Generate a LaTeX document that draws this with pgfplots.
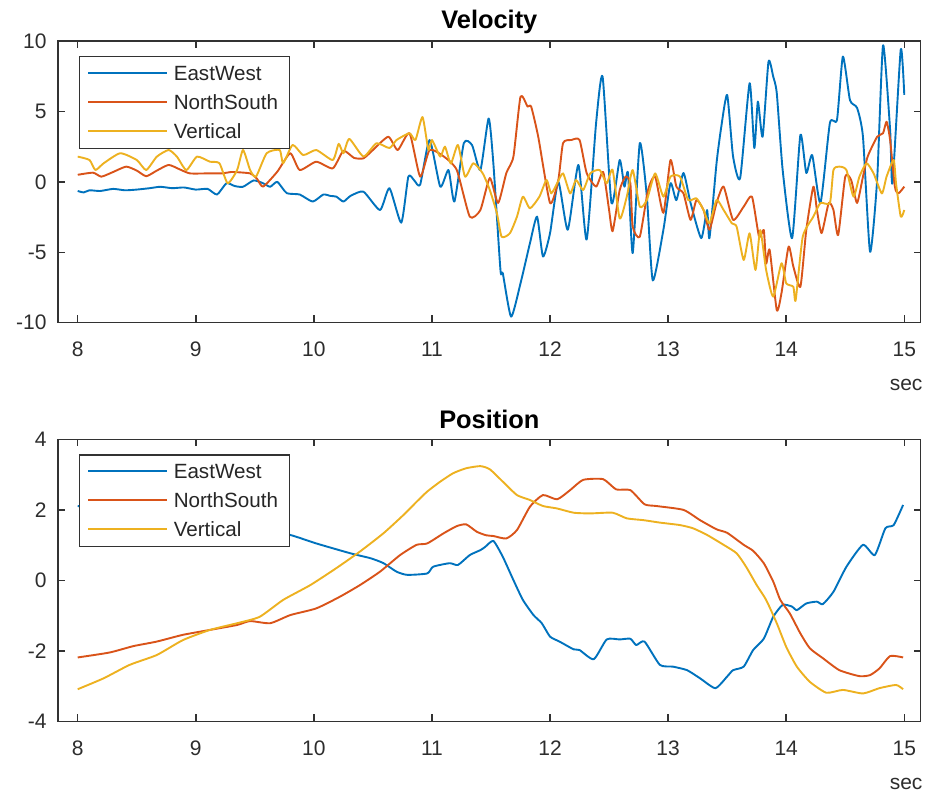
\documentclass[border=0pt]{standalone}
\usepackage{pgfplots}
\pgfplotsset{compat=1.18}
\usepackage{fontspec}
\setmainfont{Liberation Sans}
\definecolor{mblue}{RGB}{0,114,189}
\definecolor{mred}{RGB}{217,83,25}
\definecolor{myellow}{RGB}{237,177,32}
\definecolor{axgray}{RGB}{50,50,50}
\definecolor{txtgray}{RGB}{45,45,45}
\pgfplotsset{
  mstyle/.style={
    scale only axis, width=431.35pt,
    xmin=7.833, xmax=15.139,
    xtick={8,9,10,11,12,13,14,15},
    tick align=inside, major tick length=3.6pt,
    axis line style={draw=axgray, line width=0.75pt},
    every tick/.append style={axgray, line width=0.75pt},
    tick label style={font=\fontsize{10.5}{12}\selectfont, text=txtgray},
    xticklabel style={yshift=-6.2pt},
    yticklabel style={xshift=-2.2pt},
    /pgf/number format/assume math mode=true,
    title style={at={(0.5,1)}, anchor=base, font=\bfseries\fontsize{12.7}{14}\selectfont, text=black},
    xlabel={sec},
    xlabel style={at={(1,0)}, anchor=center, xshift=-7.3pt, yshift=-31pt, font=\fontsize{10.5}{12}\selectfont, text=txtgray},
  },
  vline/.style={line width=0.95pt, line join=round, smooth, tension=0.35},
}
% legend drawn inside the axis (box, sample lines, labels)
\newcommand\mlegend{%
  \draw[draw=axgray, line width=0.75pt, fill=white]
    ([xshift=10.65pt,yshift=-7.85pt]rel axis cs:0,1) rectangle ++(105pt,-45.8pt);
  \draw[mblue, line width=0.95pt]   ([xshift=15.15pt,yshift=-15.9pt]rel axis cs:0,1) -- ++(39.5pt,0pt);
  \draw[mred, line width=0.95pt]    ([xshift=15.15pt,yshift=-30.4pt]rel axis cs:0,1) -- ++(39.5pt,0pt);
  \draw[myellow, line width=0.95pt] ([xshift=15.15pt,yshift=-44.9pt]rel axis cs:0,1) -- ++(39.5pt,0pt);
  \path[font=\fontsize{10.3}{12}\selectfont, text=black!85, inner sep=0pt]
    ([xshift=57.7pt,yshift=-19.6pt]rel axis cs:0,1) node[anchor=base west] {EastWest}
    ([xshift=57.7pt,yshift=-34.1pt]rel axis cs:0,1) node[anchor=base west] {NorthSouth}
    ([xshift=57.7pt,yshift=-48.6pt]rel axis cs:0,1) node[anchor=base west] {Vertical};
}
\begin{document}
\begin{tikzpicture}
\path[use as bounding box] (0,0) rectangle (464pt,396.5pt);
% ---------------- Velocity ----------------
\begin{axis}[mstyle, at={(29pt,376pt)}, anchor=north west, height=140.85pt,
  ymin=-10, ymax=10, ytick={-10,-5,0,5,10},
  title={Velocity}, title style={yshift=0.3pt}]
\addplot[mblue, vline] coordinates {
(8.00,-0.65) (8.05,-0.75) (8.10,-0.6) (8.19,-0.65) (8.30,-0.5) (8.40,-0.6) (8.50,-0.55) (8.61,-0.45) (8.70,-0.35) (8.80,-0.45) (8.90,-0.4) (9.00,-0.55) (9.10,-0.5) (9.18,-0.9) (9.26,-0.1) (9.33,-0.3) (9.40,-0.35) (9.49,0.1) (9.57,-0.1) (9.63,-0.35) (9.69,0.0) (9.77,-0.8) (9.88,-0.9) (9.99,-1.4) (10.08,-0.9) (10.14,-1.0) (10.19,-1.05) (10.25,-1.4) (10.31,-1.0) (10.42,-0.7) (10.56,-2.0) (10.64,-0.45) (10.74,-2.9) (10.80,0.37) (10.85,0.1) (10.90,-0.2) (10.98,2.97) (11.07,-0.34) (11.14,0.84) (11.19,-1.4) (11.27,2.75) (11.34,2.6) (11.41,0.84) (11.48,4.5) (11.52,1.3) (11.58,-6.26) (11.60,-6.5) (11.67,-9.57) (11.75,-7.2) (11.83,-4.35) (11.89,-2.47) (11.94,-5.3) (12.00,-3.64) (12.07,0.0) (12.15,-3.4) (12.24,1.2) (12.31,-4.1) (12.39,4.18) (12.445,7.47) (12.52,-1.5) (12.59,1.55) (12.63,-0.34) (12.66,0.63) (12.70,-5.06) (12.76,2.75) (12.82,-1.05) (12.87,-7.0) (12.96,-3.4) (13.02,-0.1) (13.07,-1.3) (13.13,0.63) (13.19,-1.5) (13.28,-4.0) (13.33,-2.0) (13.35,-4.0) (13.41,1.33) (13.45,3.9) (13.50,6.17) (13.55,1.8) (13.61,0.27) (13.69,7.0) (13.73,2.4) (13.76,5.7) (13.80,3.2) (13.85,8.53) (13.89,7.47) (13.92,6.3) (13.97,0.84) (14.05,-4.0) (14.12,3.33) (14.17,0.63) (14.22,1.9) (14.29,-1.5) (14.37,4.18) (14.43,4.4) (14.48,8.9) (14.54,5.8) (14.60,5.25) (14.65,3.2) (14.71,-4.96) (14.77,0.13) (14.82,9.7) (14.88,3.68) (14.90,-0.1) (14.97,9.4) (15.00,6.17)
};
\addplot[mred, vline] coordinates {
(8.00,0.5) (8.13,0.65) (8.20,0.37) (8.30,0.7) (8.41,1.08) (8.50,0.8) (8.58,0.4) (8.67,0.8) (8.77,1.2) (8.86,0.9) (8.95,0.6) (9.10,0.6) (9.23,0.6) (9.30,0.7) (9.46,0.6) (9.52,0.2) (9.57,-0.34) (9.69,0.72) (9.80,2.03) (9.88,0.84) (10.02,1.43) (10.16,0.96) (10.25,2.2) (10.34,1.7) (10.42,1.67) (10.50,2.26) (10.63,3.2) (10.71,2.26) (10.81,3.45) (10.90,0.37) (10.98,2.26) (11.10,1.8) (11.21,0.84) (11.32,-2.47) (11.41,-2.0) (11.49,0.27) (11.56,-1.5) (11.63,0.63) (11.69,1.8) (11.75,6.05) (11.81,5.34) (11.84,5.34) (11.90,3.2) (12.00,-1.5) (12.07,0.13) (12.11,2.75) (12.18,2.97) (12.25,2.97) (12.31,0.63) (12.39,-0.34) (12.45,0.7) (12.50,-2.0) (12.53,-3.5) (12.59,-0.58) (12.64,0.37) (12.68,-0.1) (12.70,-3.18) (12.76,-3.9) (12.83,-0.58) (12.89,0.37) (12.96,-2.2) (13.02,1.55) (13.07,-0.34) (13.13,-0.82) (13.19,-2.7) (13.24,-1.29) (13.30,-2.0) (13.35,-3.4) (13.41,-1.5) (13.47,-0.34) (13.55,-2.7) (13.64,-1.76) (13.71,-1.05) (13.77,-3.9) (13.81,-3.42) (13.83,-5.8) (13.86,-4.84) (13.92,-9.1) (13.96,-7.9) (14.02,-4.6) (14.06,-6.0) (14.12,-7.45) (14.17,-3.42) (14.23,-0.34) (14.26,-2.0) (14.30,-3.64) (14.36,-1.5) (14.40,-2.0) (14.44,-3.78) (14.50,0.37) (14.55,0.13) (14.60,-1.5) (14.65,0.37) (14.69,1.8) (14.77,3.2) (14.82,3.45) (14.85,4.27) (14.88,2.97) (14.92,-0.34) (14.95,-0.82) (15.00,-0.34)
};
\addplot[myellow, vline] coordinates {
(8.00,1.79) (8.10,1.55) (8.15,0.84) (8.22,1.32) (8.36,2.03) (8.50,1.55) (8.58,0.84) (8.67,1.79) (8.77,2.26) (8.84,1.79) (8.92,0.84) (9.01,1.79) (9.12,1.43) (9.20,1.32) (9.27,-0.1) (9.35,0.84) (9.40,2.26) (9.46,0.84) (9.51,0.37) (9.60,2.03) (9.71,2.26) (9.74,1.32) (9.82,2.62) (9.91,1.9) (10.02,2.26) (10.16,1.55) (10.21,2.7) (10.25,2.03) (10.30,3.05) (10.42,1.8) (10.53,2.74) (10.64,2.4) (10.70,2.97) (10.81,3.45) (10.86,2.97) (10.92,4.6) (10.97,2.26) (11.00,2.97) (11.07,1.79) (11.11,2.5) (11.16,1.3) (11.22,2.62) (11.28,0.37) (11.35,1.32) (11.43,0.6) (11.49,-0.58) (11.55,-2.23) (11.59,-3.9) (11.66,-3.65) (11.72,-2.47) (11.77,-1.05) (11.83,-1.88) (11.91,-1.05) (11.97,0.13) (12.01,-0.82) (12.06,-0.1) (12.11,0.6) (12.17,-0.82) (12.22,0.13) (12.28,-0.58) (12.34,0.6) (12.42,0.84) (12.48,-0.1) (12.53,0.84) (12.59,-2.6) (12.65,-1.05) (12.70,0.84) (12.76,-1.76) (12.82,-1.29) (12.89,0.6) (12.96,-1.05) (13.02,0.37) (13.10,0.37) (13.17,-1.29) (13.24,-1.17) (13.30,-2.0) (13.35,-2.95) (13.41,-1.29) (13.47,-2.0) (13.54,-2.95) (13.58,-3.18) (13.64,-5.55) (13.69,-3.65) (13.74,-6.26) (13.78,-3.42) (13.83,-6.26) (13.89,-8.15) (13.96,-5.78) (14.00,-7.2) (14.06,-7.45) (14.08,-8.4) (14.14,-3.9) (14.23,-2.47) (14.29,-1.5) (14.37,-1.5) (14.40,0.84) (14.45,1.08) (14.51,0.84) (14.57,-1.05) (14.62,0.37) (14.68,1.32) (14.74,0.6) (14.81,-0.82) (14.85,0.37) (14.91,1.55) (14.93,-0.1) (14.97,-2.47) (15.00,-2.0)
};
\mlegend
\end{axis}
% ---------------- Position ----------------
\begin{axis}[mstyle, at={(29pt,176.85pt)}, anchor=north west, height=141.2pt,
  ymin=-4, ymax=4, ytick={-4,-2,0,2,4},
  title={Position}, title style={yshift=-0.4pt}]
\addplot[mblue, vline] coordinates {
(8.00,2.11) (8.30,2.0) (8.70,1.85) (9.10,1.7) (9.50,1.5) (9.80,1.29) (10.02,1.05) (10.31,0.77) (10.48,0.63) (10.59,0.49) (10.70,0.25) (10.79,0.16) (10.96,0.2) (11.01,0.39) (11.15,0.49) (11.22,0.44) (11.32,0.72) (11.41,0.86) (11.45,0.95) (11.52,1.12) (11.60,0.67) (11.69,0.01) (11.77,-0.55) (11.86,-0.98) (11.93,-1.21) (12.00,-1.59) (12.08,-1.73) (12.20,-1.95) (12.25,-1.97) (12.37,-2.23) (12.48,-1.67) (12.59,-1.67) (12.68,-1.65) (12.73,-1.83) (12.80,-1.73) (12.93,-2.39) (13.04,-2.44) (13.16,-2.54) (13.27,-2.77) (13.40,-3.05) (13.50,-2.72) (13.55,-2.54) (13.64,-2.44) (13.72,-1.97) (13.81,-1.65) (13.89,-1.03) (13.97,-0.69) (14.05,-0.74) (14.09,-0.84) (14.17,-0.65) (14.26,-0.6) (14.31,-0.67) (14.40,-0.32) (14.51,0.39) (14.65,1.01) (14.75,0.72) (14.84,1.48) (14.91,1.57) (14.99,2.14)
};
\addplot[mred, vline] coordinates {
(8.00,-2.18) (8.27,-2.04) (8.47,-1.86) (8.67,-1.73) (8.89,-1.54) (9.12,-1.40) (9.35,-1.26) (9.46,-1.15) (9.63,-1.21) (9.80,-0.98) (10.02,-0.79) (10.22,-0.46) (10.39,-0.13) (10.56,0.25) (10.73,0.72) (10.87,1.01) (10.96,1.05) (11.10,1.34) (11.21,1.54) (11.29,1.59) (11.38,1.38) (11.46,1.28) (11.52,1.26) (11.63,1.19) (11.72,1.43) (11.83,2.09) (11.94,2.42) (12.06,2.30) (12.17,2.56) (12.28,2.85) (12.45,2.87) (12.56,2.58) (12.68,2.56) (12.80,2.16) (12.90,2.11) (13.13,2.0) (13.27,1.71) (13.41,1.45) (13.50,1.35) (13.64,1.01) (13.72,0.84) (13.81,0.49) (13.89,-0.03) (13.95,-0.55) (14.03,-0.93) (14.12,-1.5) (14.20,-1.92) (14.31,-2.2) (14.45,-2.54) (14.62,-2.71) (14.71,-2.68) (14.79,-2.49) (14.88,-2.14) (14.99,-2.18)
};
\addplot[myellow, vline] coordinates {
(8.00,-3.08) (8.22,-2.77) (8.44,-2.39) (8.67,-2.11) (8.89,-1.69) (9.12,-1.40) (9.35,-1.21) (9.54,-1.03) (9.74,-0.55) (9.97,-0.13) (10.19,0.35) (10.39,0.82) (10.59,1.34) (10.76,1.86) (10.87,2.23) (10.96,2.52) (11.07,2.80) (11.18,3.04) (11.29,3.18) (11.41,3.24) (11.49,3.15) (11.60,2.80) (11.72,2.42) (11.83,2.28) (11.94,2.11) (12.06,2.04) (12.20,1.92) (12.34,1.90) (12.53,1.92) (12.65,1.76) (12.79,1.71) (12.93,1.64) (13.10,1.57) (13.21,1.48) (13.33,1.29) (13.47,1.01) (13.58,0.77) (13.66,0.39) (13.75,-0.13) (13.83,-0.55) (13.92,-1.21) (14.00,-1.88) (14.09,-2.44) (14.20,-2.87) (14.34,-3.18) (14.48,-3.10) (14.65,-3.2) (14.79,-3.05) (14.93,-2.96) (14.99,-3.08)
};
\mlegend
\end{axis}
\end{tikzpicture}
\end{document}
